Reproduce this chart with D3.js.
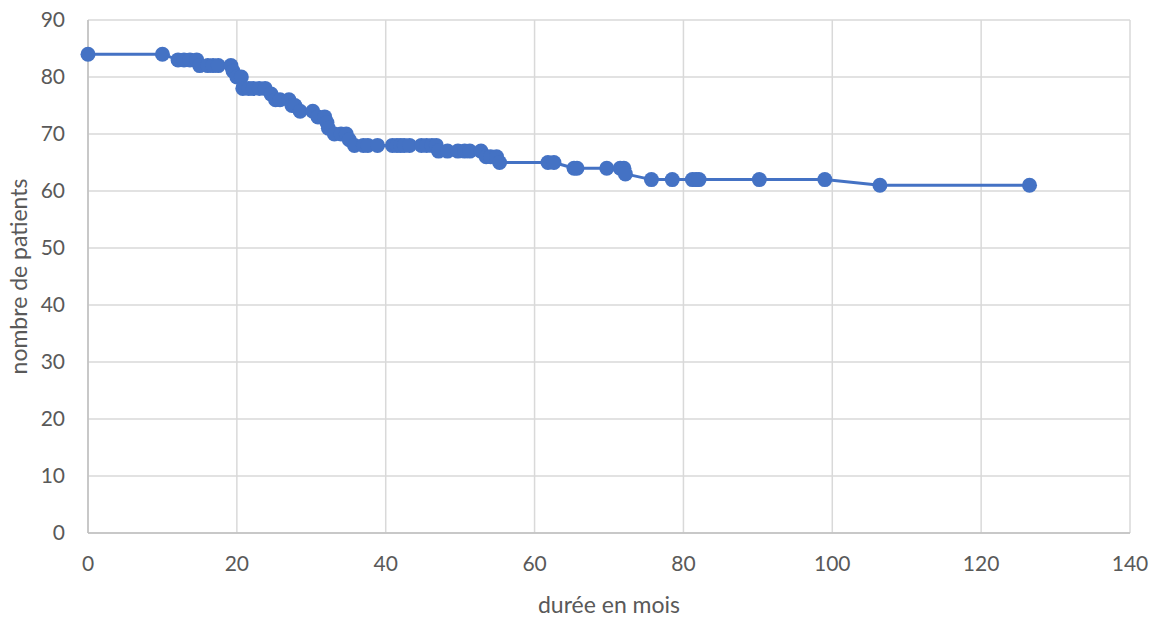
<!DOCTYPE html>
<html>
<head>
<meta charset="utf-8">
<script src="https://d3js.org/d3.v7.min.js"></script>
<style>
  body { margin: 0; background: #fff; }
  text { font-family: Lato, "Open Sans", sans-serif; fill: #595959; }
</style>
</head>
<body>
<svg id="mainsvg" width="1160" height="622"></svg>
<script>
// durée en mois / nombre de patients
const months = [0, 10, 12.1, 12.9, 13.7, 14.6, 15, 16.1, 16.8, 17.5, 19.2, 19.5, 20, 20.6, 20.8,
  21.6, 22.2, 23, 23.8, 24.6, 25.2, 25.8, 27, 27.4, 27.8, 28.5, 30.2, 30.9, 31.8, 32.1, 32.3,
  33.1, 34, 34.7, 35.1, 35.8, 37, 37.6, 38.9, 40.9, 41.5, 42, 42.5, 43.2, 44.8, 45.5, 46.2,
  46.8, 47.1, 48.3, 49.7, 50.6, 51.3, 52.8, 53.5, 54.1, 54.9, 55.3, 61.8, 62.6, 65.3, 65.7,
  69.7, 71.5, 72, 72.2, 75.7, 78.5, 81.2, 81.7, 82.1, 90.2, 99, 106.4, 126.5];
const patients = [84, 84, 83, 83, 83, 83, 82, 82, 82, 82, 82, 81, 80, 80, 78,
  78, 78, 78, 78, 77, 76, 76, 76, 75, 75, 74, 74, 73, 73, 72, 71,
  70, 70, 70, 69, 68, 68, 68, 68, 68, 68, 68, 68, 68, 68, 68, 68,
  68, 67, 67, 67, 67, 67, 67, 66, 66, 66, 65, 65, 65, 64, 64,
  64, 64, 64, 63, 62, 62, 62, 62, 62, 62, 62, 61, 61];
const xTicks = [0, 20, 40, 60, 80, 100, 120, 140];
const yTicks = [0, 10, 20, 30, 40, 50, 60, 70, 80, 90];

const data = months.map((m, i) => ({x: m, y: patients[i]}));

const svg = d3.select('#mainsvg');
const margin = {top: 20, right: 30, bottom: 89, left: 88};
const width = +svg.attr('width');
const height = +svg.attr('height');
const innerWidth = width - margin.left - margin.right;
const innerHeight = height - margin.top - margin.bottom;

const g = svg.append('g')
  .attr('transform', `translate(${margin.left}, ${margin.top})`);

const xScale = d3.scaleLinear().domain([0, 140]).range([0, innerWidth]);
const yScale = d3.scaleLinear().domain([0, 90]).range([innerHeight, 0]);

// grid
g.append('g').selectAll('line').data(xTicks).join('line')
  .attr('x1', d => xScale(d)).attr('x2', d => xScale(d))
  .attr('y1', 0).attr('y2', innerHeight)
  .attr('stroke', '#d9d9d9').attr('stroke-width', 1.5);
g.append('g').selectAll('line').data(yTicks).join('line')
  .attr('x1', 0).attr('x2', innerWidth)
  .attr('y1', d => yScale(d)).attr('y2', d => yScale(d))
  .attr('stroke', '#d9d9d9').attr('stroke-width', 1.5);

// axis lines
g.append('line').attr('x1', 0).attr('x2', innerWidth)
  .attr('y1', innerHeight).attr('y2', innerHeight)
  .attr('stroke', '#bfbfbf').attr('stroke-width', 1.5);
g.append('line').attr('x1', 0).attr('x2', 0)
  .attr('y1', 0).attr('y2', innerHeight)
  .attr('stroke', '#bfbfbf').attr('stroke-width', 1.5);

// tick labels
g.append('g').selectAll('text').data(xTicks).join('text')
  .attr('x', d => xScale(d))
  .attr('y', innerHeight + 38)
  .attr('text-anchor', 'middle')
  .style('font-size', '21px')
  .text(d => d);
g.append('g').selectAll('text').data(yTicks).join('text')
  .attr('x', -23)
  .attr('y', d => yScale(d) + 7)
  .attr('text-anchor', 'end')
  .style('font-size', '21px')
  .text(d => d);

// line + markers
const line = d3.line().x(d => xScale(d.x)).y(d => yScale(d.y));
g.append('path').datum(data)
  .attr('d', line)
  .attr('fill', 'none')
  .attr('stroke', '#4472c4')
  .attr('stroke-width', 3)
  .attr('stroke-linejoin', 'round');
g.append('g').selectAll('circle').data(data).join('circle')
  .attr('cx', d => xScale(d.x))
  .attr('cy', d => yScale(d.y))
  .attr('r', 7.5)
  .attr('fill', '#4472c4');

// axis titles
svg.append('text')
  .text('durée en mois')
  .attr('x', margin.left + innerWidth / 2)
  .attr('y', 613)
  .attr('text-anchor', 'middle')
  .style('font-size', '23px');
svg.append('text')
  .text('nombre de patients')
  .attr('transform', `translate(27, ${margin.top + innerHeight / 2}) rotate(-90)`)
  .attr('text-anchor', 'middle')
  .style('font-size', '23px');
</script>
</body>
</html>
